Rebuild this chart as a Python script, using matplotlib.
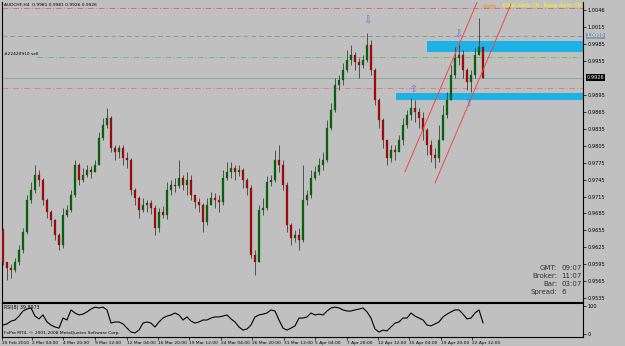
import matplotlib
matplotlib.use("Agg")
import matplotlib.pyplot as plt
import numpy as np
from matplotlib.patches import Rectangle

# ---------------- data ----------------
first_open = 0.9656
close = [0.9599, 0.9588, 0.9585, 0.9599, 0.9620, 0.9652, 0.9709, 0.9727, 0.9753, 0.9744,
         0.9709, 0.9688, 0.9673, 0.9647, 0.9629, 0.9682, 0.9691, 0.9718, 0.9771, 0.9744,
         0.9753, 0.9762, 0.9759, 0.9771, 0.9819, 0.9842, 0.9855, 0.9801, 0.9794, 0.9801,
         0.9783, 0.9780, 0.9727, 0.9713, 0.9691, 0.9700, 0.9704, 0.9695, 0.9659, 0.9688,
         0.9682, 0.9727, 0.9735, 0.9734, 0.9748, 0.9735, 0.9744, 0.9718, 0.9706, 0.9700,
         0.9670, 0.9700, 0.9713, 0.9709, 0.9706, 0.9748, 0.9759, 0.9766, 0.9759, 0.9762,
         0.9744, 0.9730, 0.9611, 0.9599, 0.9691, 0.9695, 0.9741, 0.9744, 0.9780, 0.9771,
         0.9735, 0.9665, 0.9642, 0.9647, 0.9638, 0.9709, 0.9718, 0.9748, 0.9759, 0.9771,
         0.9780, 0.9837, 0.9869, 0.9913, 0.9922, 0.9940, 0.9957, 0.9966, 0.9954, 0.9948,
         0.9957, 0.9984, 0.9940, 0.9886, 0.9851, 0.9815, 0.9783, 0.9798, 0.9794, 0.9815,
         0.9842, 0.9860, 0.9872, 0.9865, 0.9855, 0.9833, 0.9806, 0.9789, 0.9783, 0.9815,
         0.9860, 0.9886, 0.9931, 0.9961, 0.9966, 0.9940, 0.9918, 0.9931, 0.9966, 0.9981,
         0.9926]
high = [0.9659, 0.9599, 0.9596, 0.9606, 0.9629, 0.9659, 0.9718, 0.9741, 0.9771, 0.9762,
        0.9748, 0.9712, 0.9692, 0.9676, 0.9650, 0.9695, 0.9700, 0.9727, 0.9780, 0.9774,
        0.9766, 0.9771, 0.9769, 0.9780, 0.9830, 0.9855, 0.9872, 0.9858, 0.9806, 0.9806,
        0.9806, 0.9794, 0.9784, 0.9730, 0.9716, 0.9713, 0.9709, 0.9709, 0.9700, 0.9695,
        0.9698, 0.9741, 0.9744, 0.9748, 0.9780, 0.9753, 0.9759, 0.9753, 0.9718, 0.9713,
        0.9704, 0.9713, 0.9723, 0.9721, 0.9718, 0.9762, 0.9776, 0.9776, 0.9771, 0.9771,
        0.9766, 0.9748, 0.9735, 0.9620, 0.9700, 0.9713, 0.9752, 0.9753, 0.9798, 0.9806,
        0.9780, 0.9740, 0.9668, 0.9656, 0.9659, 0.9771, 0.9727, 0.9762, 0.9769, 0.9783,
        0.9794, 0.9851, 0.9881, 0.9925, 0.9931, 0.9952, 0.9975, 0.9984, 0.9971, 0.9961,
        0.9966, 1.0005, 0.9993, 0.9943, 0.9890, 0.9855, 0.9815, 0.9806, 0.9806, 0.9824,
        0.9855, 0.9869, 0.9890, 0.9886, 0.9872, 0.9865, 0.9837, 0.9815, 0.9801, 0.9842,
        0.9877, 0.9901, 0.9948, 0.9980, 0.9984, 0.9975, 0.9943, 0.9940, 0.9979, 1.0032,
        0.9981]
low = [0.9594, 0.9567, 0.9571, 0.9581, 0.9594, 0.9615, 0.9648, 0.9704, 0.9722, 0.9734,
       0.9700, 0.9677, 0.9663, 0.9638, 0.9620, 0.9624, 0.9678, 0.9688, 0.9714, 0.9735,
       0.9740, 0.9750, 0.9748, 0.9759, 0.9771, 0.9815, 0.9837, 0.9794, 0.9780, 0.9783,
       0.9771, 0.9766, 0.9718, 0.9700, 0.9677, 0.9688, 0.9688, 0.9684, 0.9647, 0.9652,
       0.9677, 0.9676, 0.9718, 0.9723, 0.9730, 0.9727, 0.9718, 0.9709, 0.9695, 0.9688,
       0.9652, 0.9665, 0.9700, 0.9695, 0.9688, 0.9700, 0.9744, 0.9748, 0.9744, 0.9752,
       0.9730, 0.9718, 0.9606, 0.9576, 0.9599, 0.9682, 0.9691, 0.9734, 0.9741, 0.9759,
       0.9727, 0.9652, 0.9629, 0.9634, 0.9620, 0.9634, 0.9700, 0.9713, 0.9744, 0.9753,
       0.9762, 0.9776, 0.9833, 0.9865, 0.9904, 0.9913, 0.9936, 0.9948, 0.9940, 0.9925,
       0.9943, 0.9954, 0.9931, 0.9877, 0.9837, 0.9801, 0.9771, 0.9776, 0.9780, 0.9798,
       0.9806, 0.9837, 0.9851, 0.9847, 0.9837, 0.9815, 0.9789, 0.9776, 0.9766, 0.9776,
       0.9815, 0.9855, 0.9886, 0.9925, 0.9948, 0.9925, 0.9904, 0.9901, 0.9925, 0.9966,
       0.9926]
rsi = [32, 36, 46, 50, 64, 82, 89, 93, 64, 54, 68, 43, 32, 25, 21, 57, 50, 86, 75, 68,
       71, 79, 89, 96, 93, 96, 86, 39, 43, 43, 36, 21, 7, 4, 14, 39, 43, 39, 25, 43,
       57, 64, 68, 75, 68, 50, 61, 46, 39, 43, 50, 50, 57, 61, 61, 64, 68, 54, 43, 25,
       14, 18, 32, 61, 68, 71, 75, 86, 82, 50, 21, 14, 21, 29, 57, 57, 61, 75, 68, 71,
       68, 82, 93, 96, 93, 86, 82, 82, 86, 89, 93, 79, 57, 18, 7, 14, 11, 25, 39, 43,
       57, 57, 75, 64, 57, 50, 32, 29, 36, 43, 61, 71, 79, 86, 86, 71, 54, 57, 75, 86,
       39.8973]

date_labels = ["25 Feb 2010", "2 Mar 04:00", "4 Mar 20:00", "9 Mar 12:00", "12 Mar 04:00",
               "16 Mar 20:00", "19 Mar 12:00", "24 Mar 04:00", "26 Mar 20:00", "31 Mar 12:00",
               "5 Apr 04:00", "7 Apr 20:00", "12 Apr 12:00", "15 Apr 04:00", "19 Apr 20:00",
               "22 Apr 12:00"]
price_ticks = [1.0046, 1.0015, 0.9985, 0.9955, 0.9895, 0.9865, 0.9835, 0.9805, 0.9775,
               0.9745, 0.9715, 0.9685, 0.9655, 0.9625, 0.9595, 0.9565, 0.9535]

level_red_top = 1.0050
level_gray = 1.0000
level_green = 0.9963
level_bid = 0.9926
level_red_low = 0.9908
zone1_x = [106.0, 145.0]
zone1_y = [0.9971, 0.9991]
zone2_x = [98.25, 145.0]
zone2_y = [0.9886, 0.9899]
channel1_x = [100.5, 119.5]
channel1_y = [0.9759, 1.0076]
channel2_x = [108.0, 127.0]
channel2_y = [0.9739, 1.0056]
arrows_down = [(91.0, 1.0028), (113.75, 1.0002)]
arrows_up = [(102.5, 0.9906), (116.25, 0.9881)]

# ---------------- figure ----------------
W, H = 625, 346
BG = "#c0c0c0"
fig = plt.figure(figsize=(W / 100, H / 100), dpi=100, facecolor=BG)

def fx(px):
    return px / W

def fy(py):
    return 1 - py / H

ax = fig.add_axes([fx(2), fy(302), (583 - 2) / W, 300 / H], facecolor=BG)
rax = fig.add_axes([fx(2), fy(337), (583 - 2) / W, 34 / H], facecolor=BG)

n = len(close)
idx = np.arange(n)
opens = [first_open] + close[:-1]

bull_c = "#0b5e0b"
bear_c = "#9a0c0c"
for i in range(n):
    o, c, h, l = opens[i], close[i], high[i], low[i]
    col = bull_c if c >= o else bear_c
    ax.vlines(i, l, h, color="#303030", lw=0.55, zorder=3)
    ax.bar(i, max(abs(c - o), 0.00005), bottom=min(o, c), width=0.55,
           color=col, edgecolor=col, lw=0.2, zorder=4)

xmin, xmax = -0.25, 145.0
ax.set_xlim(xmin, xmax)
ax.set_ylim(0.9528, 1.0060)

# zones
for zx, zy in ((zone1_x, zone1_y), (zone2_x, zone2_y)):
    ax.add_patch(Rectangle((zx[0], zy[0]), zx[1] - zx[0], zy[1] - zy[0],
                           facecolor="#1cb2e6", edgecolor="none", zorder=2))

# levels
ax.axhline(level_red_top, color="#e06a6a", lw=0.7, ls=(0, (6, 2, 1, 2)), zorder=1)
ax.axhline(level_gray, color="#8a98a4", lw=0.7, ls=(0, (5, 3)), zorder=1)
ax.hlines(level_green, 8.5, xmax, color="#6cc06c", lw=0.7, ls=(0, (6, 2, 1, 2)), zorder=1)
ax.axhline(level_bid, color="#8a9aa4", lw=0.6, zorder=1)
ax.axhline(level_red_low, color="#e08080", lw=0.7, ls=(0, (6, 2, 1, 2)), zorder=1)

# channel
ax.plot(channel1_x, channel1_y, color="#f04848", lw=0.7, zorder=5)
ax.plot(channel2_x, channel2_y, color="#f04848", lw=0.7, zorder=5)

for (xa, ya) in arrows_down:
    ax.text(xa, ya, "\u21e9", color="#6a6ad8", fontsize=7, ha="center", va="center",
            family="DejaVu Sans", zorder=6)
for (xa, ya) in arrows_up:
    ax.text(xa, ya, "\u21e7", color="#6a6ad8", fontsize=7, ha="center", va="center",
            family="DejaVu Sans", zorder=6)

# axes styling main
ax.spines["top"].set_visible(False)
for s in ("left", "right", "bottom"):
    ax.spines[s].set_color("black")
    ax.spines[s].set_linewidth(0.8)
ax.set_xticks([])
ax.yaxis.tick_right()
ax.set_yticks(price_ticks)
ax.set_yticklabels([f"{v:.4f}" for v in price_ticks])
ax.tick_params(axis="y", labelsize=3.6, length=2, width=0.5, pad=1.5, colors="black")

# boxed price labels
ax.text(1.006, level_gray, "1.0000", transform=ax.get_yaxis_transform(), fontsize=3.6,
        color="white", va="center", ha="left",
        bbox=dict(boxstyle="square,pad=0.15", facecolor="#8a98a8", edgecolor="none"))
ax.text(1.006, level_bid, "0.9926", transform=ax.get_yaxis_transform(), fontsize=3.6,
        color="white", va="center", ha="left",
        bbox=dict(boxstyle="square,pad=0.15", facecolor="black", edgecolor="none"))

# RSI panel
rax.plot(idx, rsi, color="black", lw=0.8)
rax.set_xlim(xmin, xmax)
rax.set_ylim(-10.7, 110.7)
rax.yaxis.tick_right()
rax.set_yticks([0, 100])
rax.set_yticklabels(["0", "100"])
rax.tick_params(axis="y", labelsize=3.6, length=2, width=0.5, pad=1.5)
tick_px = [2, 32, 63, 95, 127, 158, 189, 221, 252, 284, 315, 347, 378, 409, 441, 472]
rax.set_xticks([(p - 3) / 4 for p in tick_px])
rax.set_xticklabels(date_labels)
rax.tick_params(axis="x", labelsize=3.2, length=2, width=0.5, pad=0.8)
for lbl in rax.get_xticklabels():
    lbl.set_horizontalalignment("left")
for s in ("left", "right", "bottom", "top"):
    rax.spines[s].set_color("black")
    rax.spines[s].set_linewidth(0.8)

# texts
fig.text(fx(4), fy(5), "AUDCHF,H4  0.9981 0.9981 0.9926 0.9926", fontsize=3.2,
         color="black", va="center", ha="left")
fig.text(fx(4), fy(54), "#22420910 sell", fontsize=3.2, color="black", va="center", ha="left")
fig.text(fx(499), fy(6), "Alerts :", fontsize=3.3, color="#ff8c00", va="center", ha="right")
fig.text(fx(581), fy(6), "Email Alerts ON , Popup Alerts ON", fontsize=3.3,
         color="#ffff00", va="center", ha="right")
fig.text(fx(4), fy(307), "RSI(8) 39.8973", fontsize=3.4, color="black", va="center", ha="left")
fig.text(fx(4), fy(333), "FxPro MT4, \u00a9 2001-2008 MetaQuotes Software Corp.",
         fontsize=3.2, color="black", va="center", ha="left")

info_labels = ["GMT:", "Broker:", "Bar:", "Spread:"]
info_values = ["09:07", "11:07", "03:07", "6"]
for k, (a, b) in enumerate(zip(info_labels, info_values)):
    y = 268 + 8 * k
    fig.text(fx(557), fy(y), a, fontsize=5, color="#303030", va="center", ha="right")
    fig.text(fx(561), fy(y), b, fontsize=5, color="#303030", va="center", ha="left")

fig.savefig("out.png", dpi=100, facecolor=BG)
